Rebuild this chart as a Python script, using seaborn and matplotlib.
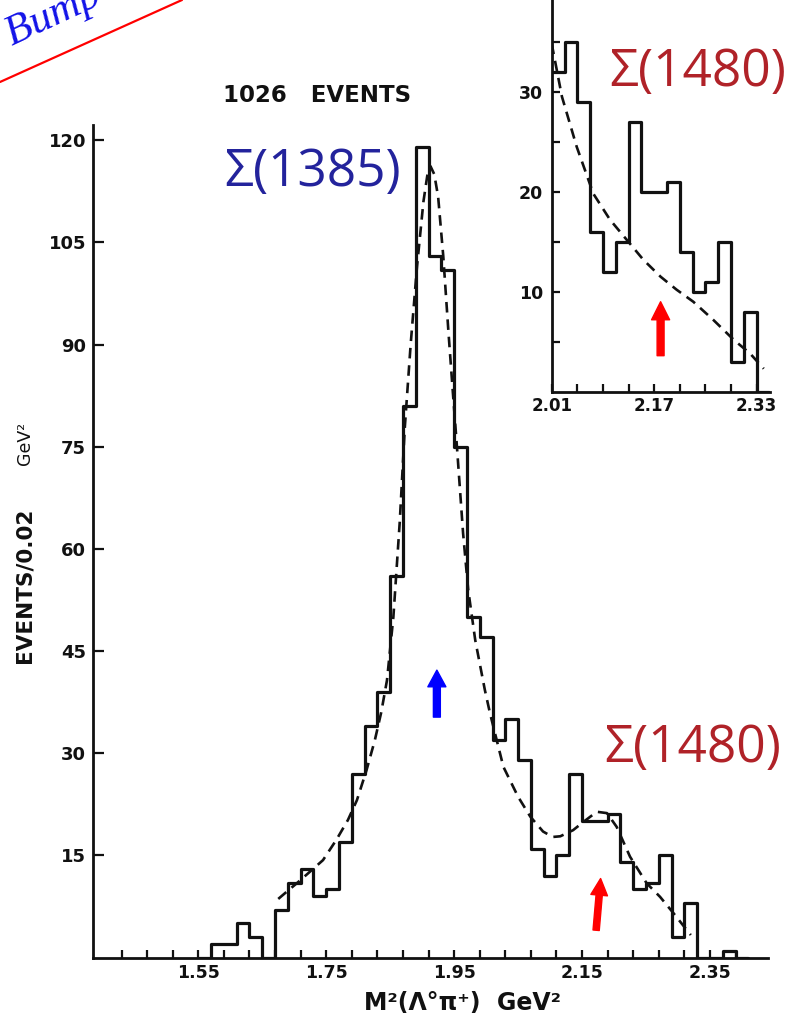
import numpy as np
import pandas as pd
import matplotlib
matplotlib.use("Agg")
import matplotlib.pyplot as plt
from matplotlib.patches import FancyArrowPatch, ArrowStyle
from matplotlib.lines import Line2D
import seaborn as sns

# ---- data: M^2(Lambda pi+) spectrum, events per 0.02 GeV^2 bin ----
bin_width = 0.02
bin_low = np.round(np.arange(1.55, 2.40, bin_width), 2)   # left bin edges 1.55 ... 2.39
events = [0, 2, 2, 5, 3, 0, 7, 11, 13, 9,
          10, 17, 27, 34, 39, 56, 81, 119, 103, 101,
          75, 50, 47, 32, 35, 29, 16, 12, 15, 27,
          20, 20, 21, 14, 10, 11, 15, 3, 8, 0,
          0, 1, 0]

# fitted curve (Sigma(1385) + Sigma(1480) + background)
fit_m2 = [1.675, 1.690, 1.704, 1.727, 1.745, 1.766, 1.784, 1.798, 1.813, 1.826,
          1.836, 1.845, 1.855, 1.865, 1.873, 1.882, 1.892, 1.902, 1.908, 1.913,
          1.919, 1.925, 1.933, 1.941, 1.948, 1.954, 1.964, 1.972, 1.983, 1.998,
          2.006, 2.027, 2.050, 2.069, 2.089, 2.104, 2.116, 2.136, 2.152, 2.173,
          2.189, 2.204, 2.225, 2.251, 2.272, 2.293, 2.314, 2.320]
fit_n = [8.6, 9.8, 10.9, 12.8, 14.3, 17.3, 20.2, 23.1, 27.5, 31.9,
         36.0, 40.7, 50.0, 64.0, 78.0, 90.0, 101.5, 111.0, 114.8, 116.2,
         115.0, 111.7, 103.0, 92.0, 83.0, 75.5, 62.3, 54.0, 46.6, 39.3,
         35.9, 28.0, 23.6, 20.7, 18.5, 17.7, 17.8, 18.7, 19.9, 21.4,
         21.2, 19.2, 14.8, 10.9, 8.9, 6.5, 4.0, 3.3]

# background-only curve shown in the enlarged 2.01-2.33 region
bg_m2 = [2.010, 2.026, 2.049, 2.075, 2.101, 2.127, 2.153, 2.180, 2.205, 2.231,
         2.262, 2.294, 2.320, 2.341]
bg_n = [34.8, 29.5, 24.5, 19.8, 17.2, 15.2, 13.2, 11.5, 10.2, 9.0,
        7.2, 5.2, 3.8, 2.3]

y_ticks = [15, 30, 45, 60, 75, 90, 105, 120]
x_tick_labels = {1.55: "1.55", 1.75: "1.75", 1.95: "1.95", 2.15: "2.15", 2.35: "2.35"}
inset_y_labels = {10: "10", 20: "20", 30: "30"}
inset_x_labels = {2.01: "2.01", 2.17: "2.17", 2.33: "2.33"}

total_label = "1026   EVENTS"
peak_label = "Σ(1385)"
bump_label = "Σ(1480)"

# ---- style ----
sns.set_theme(style="ticks")
plt.rcParams["font.family"] = ["DejaVu Sans"]
INK = "#111111"
BLUE_TXT = "#23239c"
RED_TXT = "#b02228"

W, H = 786, 1021
fig = plt.figure(figsize=(W / 100, H / 100), dpi=100)
fig.patch.set_facecolor("white")


def fx(px):
    return px / W


def fy(py):
    return 1 - py / H


df = pd.DataFrame({"m2": bin_low + bin_width / 2, "n": events})
edges = [round(float(v), 2) for v in np.append(bin_low, bin_low[-1] + bin_width)]

# ---- main panel ----
ax = fig.add_axes([fx(93), fy(957.5), fx(768) - fx(93), fy(125) - fy(957.5)])
ax.set_facecolor("white")
sns.histplot(data=df, x="m2", weights="n", bins=edges, element="step",
             fill=False, color=INK, linewidth=2.3, ax=ax)
sns.lineplot(x=fit_m2, y=fit_n, ax=ax, color=INK, linewidth=1.9,
             linestyle=(0, (4, 2.6)), sort=True)
ax.set_xlim(1.3854, 2.4407)
ax.set_ylim(0, 122.25)
sns.despine(ax=ax)
for s in ("left", "bottom"):
    ax.spines[s].set_linewidth(2.0)
    ax.spines[s].set_color(INK)

xt = np.round(np.arange(1.43, 2.40, 0.04), 2)
ax.set_xticks(xt)
ax.set_xticklabels([x_tick_labels.get(round(float(v), 2), "") for v in xt])
ax.set_yticks(y_ticks)
ax.set_yticklabels([str(v) for v in y_ticks])
ax.tick_params(axis="x", direction="in", length=6, width=1.6, pad=5,
               labelsize=12.5, colors=INK)
ax.tick_params(axis="y", direction="in", length=8, width=1.6, pad=5,
               labelsize=13, colors=INK)
for lab in ax.get_xticklabels() + ax.get_yticklabels():
    lab.set_fontweight("bold")
ax.set_xlabel("")
ax.set_ylabel("")


# arrows marking the two resonances
def up_arrow(axis, x0, y0, x1, y1, color, hw, hl, tw):
    axis.add_patch(FancyArrowPatch(
        (x0, y0), (x1, y1),
        arrowstyle=ArrowStyle.Simple(head_length=hl, head_width=hw, tail_width=tw),
        mutation_scale=1, color=color, shrinkA=0, shrinkB=0, zorder=5))


up_arrow(ax, 1.923, 35.3, 1.923, 42.2, "#0000ff", 13, 12, 5)
up_arrow(ax, 2.172, 4.0, 2.179, 11.6, "#ff0000", 12, 12, 4.5)

# ---- enlarged region panel ----
axi = fig.add_axes([fx(551.7), fy(391.7), fx(770) - fx(551.7), fy(0) - fy(391.7)])
axi.set_facecolor("white")
sub = df[(df["m2"] > 2.01) & (df["m2"] < 2.35)]
sub_edges = [v for v in edges if 2.009 <= v <= 2.351]
sns.histplot(data=sub, x="m2", weights="n", bins=sub_edges, element="step",
             fill=False, color=INK, linewidth=2.3, ax=axi)
sns.lineplot(x=bg_m2, y=bg_n, ax=axi, color=INK, linewidth=1.9,
             linestyle=(0, (4, 2.6)), sort=True)
axi.set_xlim(2.01, 2.3508)
axi.set_ylim(0, 39.17)
sns.despine(ax=axi)
for s in ("left", "bottom"):
    axi.spines[s].set_linewidth(2.0)
    axi.spines[s].set_color(INK)
ixt = np.round(np.arange(2.01, 2.34, 0.04), 2)
axi.set_xticks(ixt)
axi.set_xticklabels([inset_x_labels.get(round(float(v), 2), "") for v in ixt])
iyt = [5, 10, 15, 20, 25, 30, 35]
axi.set_yticks(iyt)
axi.set_yticklabels([inset_y_labels.get(v, "") for v in iyt])
axi.tick_params(axis="x", direction="in", length=6, width=1.6, pad=4,
                labelsize=12, colors=INK)
axi.tick_params(axis="y", direction="in", length=6, width=1.6, pad=6,
                labelsize=12.5, colors=INK)
for lab in axi.get_xticklabels() + axi.get_yticklabels():
    lab.set_fontweight("bold")
axi.set_xlabel("")
axi.set_ylabel("")
up_arrow(axi, 2.180, 3.6, 2.180, 9.0, "#ff0000", 13, 13, 5)

# ---- text ----
fig.text(fx(317), fy(96), total_label, ha="center", va="center",
         fontsize=16.5, fontweight="bold", color=INK)
fig.text(fx(25), fy(585), "EVENTS/0.02", rotation=90, ha="center", va="center",
         fontsize=15.5, fontweight="bold", color=INK)
fig.text(fx(25), fy(443), "GeV²", rotation=90, ha="center", va="center",
         fontsize=12.5, color=INK)
fig.text(fx(463), fy(1003), "M²(Λ°π⁺)  GeV²", ha="center", va="center",
         fontsize=17, fontweight="bold", color=INK)

sigma_font = ["Open Sans", "DejaVu Sans"]
fig.text(fx(313), fy(172), peak_label, ha="center", va="center",
         fontsize=37, color=BLUE_TXT, family=sigma_font)
fig.text(fx(693), fy(749), bump_label, ha="center", va="center",
         fontsize=37, color=RED_TXT, family=sigma_font)
fig.text(fx(698), fy(72), bump_label, ha="center", va="center",
         fontsize=37, color=RED_TXT, family=sigma_font)

# slanted heading in the corner
fig.text(fx(12), fy(46), "Bump hunting", rotation=25, rotation_mode="anchor",
         ha="left", va="baseline", fontsize=31, style="italic",
         color="#1212e8", family=["Liberation Serif", "DejaVu Serif"])
fig.add_artist(Line2D([fx(0), fx(182)], [fy(82), fy(0)], color="#ff0000",
                      linewidth=1.6, transform=fig.transFigure))

fig.savefig("out.png", dpi=100, facecolor="white")
